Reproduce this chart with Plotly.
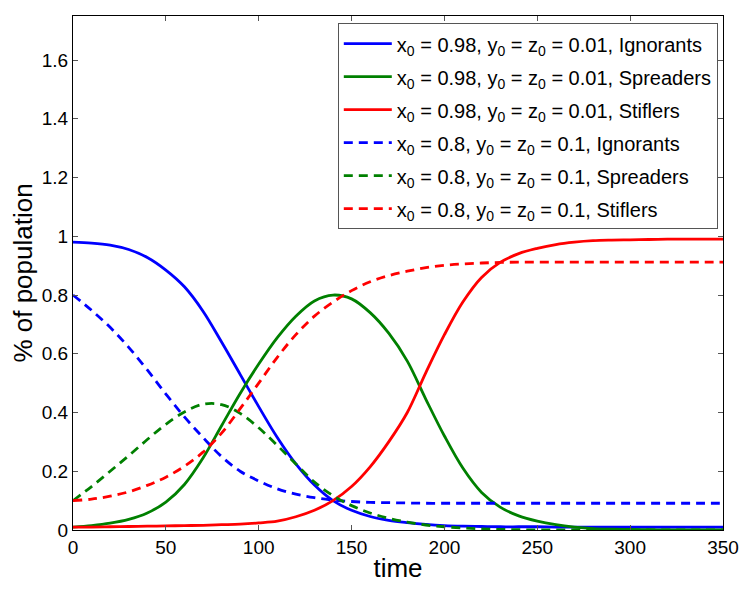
import plotly.graph_objects as go

time = [0, 10, 20, 30, 40, 50, 60, 70, 80, 90, 100, 110, 120, 130, 140, 150, 160, 170, 180,
        190, 200, 210, 220, 230, 240, 250, 260, 270, 280, 290, 300, 310, 320, 330, 340, 350]

# x0 = 0.98, y0 = z0 = 0.01
ign_a = [0.98, 0.977, 0.97, 0.955, 0.928, 0.885, 0.828, 0.745, 0.64, 0.53, 0.42, 0.315,
         0.225, 0.153, 0.10, 0.067, 0.046, 0.033, 0.025, 0.019, 0.015, 0.013, 0.012, 0.011,
         0.011, 0.011, 0.01, 0.01, 0.01, 0.01, 0.01, 0.01, 0.01, 0.01, 0.01, 0.01]
spr_a = [0.01, 0.015, 0.023, 0.036, 0.058, 0.095, 0.155, 0.245, 0.355, 0.465, 0.565, 0.655,
         0.728, 0.78, 0.80, 0.787, 0.74, 0.67, 0.575, 0.445, 0.32, 0.21, 0.128, 0.078,
         0.048, 0.03, 0.018, 0.01, 0.005, 0.003, 0.002, 0.001, 0.0, 0.0, 0.0, 0.0]
sti_a = [0.01, 0.01, 0.011, 0.012, 0.013, 0.014, 0.015, 0.016, 0.018, 0.02, 0.024, 0.03,
         0.045, 0.067, 0.10, 0.148, 0.215, 0.30, 0.40, 0.536, 0.665, 0.777, 0.86, 0.911,
         0.941, 0.959, 0.972, 0.98, 0.985, 0.987, 0.988, 0.989, 0.99, 0.99, 0.99, 0.99]

# x0 = 0.8, y0 = z0 = 0.1
ign_b = [0.8, 0.748, 0.69, 0.622, 0.545, 0.463, 0.385, 0.315, 0.25, 0.2, 0.167, 0.14,
         0.122, 0.11, 0.102, 0.097, 0.094, 0.093, 0.092, 0.091, 0.091, 0.091, 0.091, 0.091,
         0.091, 0.091, 0.091, 0.091, 0.091, 0.091, 0.091, 0.091, 0.091, 0.091, 0.091, 0.091]
spr_b = [0.1, 0.148, 0.2, 0.253, 0.308, 0.36, 0.402, 0.428, 0.427, 0.397, 0.348, 0.288,
         0.225, 0.163, 0.117, 0.083, 0.058, 0.04, 0.027, 0.017, 0.011, 0.007, 0.004, 0.002,
         0.001, 0.0, 0.0, 0.0, 0.0, 0.0, 0.0, 0.0, 0.0, 0.0, 0.0, 0.0]
sti_b = [0.1, 0.105, 0.115, 0.13, 0.152, 0.18, 0.217, 0.265, 0.33, 0.413, 0.5, 0.588,
         0.665, 0.728, 0.776, 0.815, 0.845, 0.866, 0.881, 0.893, 0.901, 0.906, 0.909, 0.911,
         0.912, 0.912, 0.912, 0.912, 0.912, 0.912, 0.912, 0.912, 0.912, 0.912, 0.912, 0.912]

names = [
    "x<sub>0</sub> = 0.98, y<sub>0</sub> = z<sub>0</sub> = 0.01, Ignorants",
    "x<sub>0</sub> = 0.98, y<sub>0</sub> = z<sub>0</sub> = 0.01, Spreaders",
    "x<sub>0</sub> = 0.98, y<sub>0</sub> = z<sub>0</sub> = 0.01, Stiflers",
    "x<sub>0</sub> = 0.8, y<sub>0</sub> = z<sub>0</sub> = 0.1, Ignorants",
    "x<sub>0</sub> = 0.8, y<sub>0</sub> = z<sub>0</sub> = 0.1, Spreaders",
    "x<sub>0</sub> = 0.8, y<sub>0</sub> = z<sub>0</sub> = 0.1, Stiflers",
]
series = [ign_a, spr_a, sti_a, ign_b, spr_b, sti_b]
colors = ["#0000ff", "#008000", "#ff0000", "#0000ff", "#008000", "#ff0000"]
dashes = ["solid", "solid", "solid", "9px,6px", "9px,6px", "9px,6px"]

fig = go.Figure()
for i, (nm, ys, c, d) in enumerate(zip(names, series, colors, dashes)):
    fig.add_trace(go.Scatter(x=time, y=ys, mode="lines", name=nm, legendgroup=str(i),
                             line=dict(color=c, width=2.8, dash=d, shape="spline", smoothing=1.0)))

font = "Liberation Sans, Arial, Helvetica, sans-serif"
fig.update_layout(
    width=739, height=582,
    margin=dict(l=65, r=24, t=8, b=60),
    paper_bgcolor="white", plot_bgcolor="white",
    font=dict(family=font, size=19, color="black"),
    showlegend=True,
    legend=dict(x=0.992, y=0.986, xanchor="right", yanchor="top",
                bgcolor="white", bordercolor="#555555", borderwidth=1,
                font=dict(size=20), tracegroupgap=4, itemwidth=48),
    xaxis=dict(range=[0, 350], tickvals=[0, 50, 100, 150, 200, 250, 300, 350],
               showgrid=False, zeroline=False, showline=True, linecolor="black", linewidth=1,
               mirror="ticks", ticks="inside", ticklen=5, tickcolor="#555555", automargin=False,
               title=dict(text="time", font=dict(size=26), standoff=2)),
    yaxis=dict(range=[0, 1.75], tickvals=[0, 0.2, 0.4, 0.6, 0.8, 1, 1.2, 1.4, 1.6],
               ticktext=["0", "0.2", "0.4", "0.6", "0.8", "1", "1.2", "1.4", "1.6"],
               showgrid=False, zeroline=False, showline=True, linecolor="black", linewidth=1,
               mirror="ticks", ticks="inside", ticklen=5, tickcolor="#555555", automargin=False,
               title=dict(text="% of population", font=dict(size=26), standoff=6)),
)
fig.write_html("out.html")
